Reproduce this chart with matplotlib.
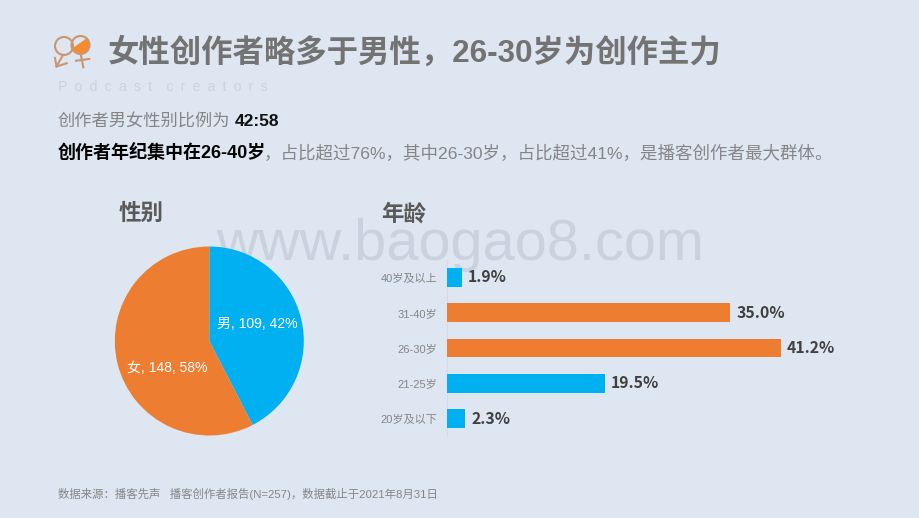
import matplotlib
matplotlib.use('Agg')
import matplotlib.pyplot as plt
from matplotlib.patches import Circle, Polygon

plt.rcParams['font.family'] = ['Liberation Sans', 'Noto Sans CJK SC', 'DejaVu Sans']

W, H = 920, 518
BG = '#DEE6F2'
ORANGE = '#ED7D31'
BLUE = '#00B0F0'

gender_labels = ['男', '女']
gender_values = [109, 148]
gender_pct = [42, 58]
gender_colors = [BLUE, ORANGE]

age_labels = ['40岁及以上', '31-40岁', '26-30岁', '21-25岁', '20岁及以下']
age_values = [1.9, 35.0, 41.2, 19.5, 2.3]
age_colors = [BLUE, ORANGE, ORANGE, BLUE, BLUE]

fig = plt.figure(figsize=(W / 100, H / 100), dpi=100, facecolor=BG)

bg = fig.add_axes([0, 0, 1, 1], zorder=0)
bg.set_xlim(0, W)
bg.set_ylim(H, 0)
bg.axis('off')
bg.text(460, 245, 'www.baogao8.com', fontsize=41.6, color='#CAD2DF', ha='center', va='center',
        family='Liberation Sans', zorder=1)

txt = fig.add_axes([0, 0, 1, 1], zorder=5)
txt.set_xlim(0, W)
txt.set_ylim(H, 0)
txt.axis('off')
txt.patch.set_alpha(0)

txt.text(108, 53, '女性创作者略多于男性，26-30岁为创作主力', fontsize=22.6, color='#737373',
         fontweight='bold', va='center', ha='left')
txt.text(58, 87, '\u2002'.join('Podcast') + '\u2002\u2002' + '\u2002'.join('creators'),
         fontsize=10.2, color='#CFD3D9', va='center', ha='left', family='Liberation Sans')
txt.text(58, 121, '创作者男女性别比例为', fontsize=12.4, color='#858585', va='center', ha='left')
txt.text(235, 121, '42:58', fontsize=12.5, color='#111111', va='center', ha='left', fontweight='bold')
txt.text(58, 153, '创作者年纪集中在26-40岁', fontsize=13, color='#000000', va='center', ha='left',
         fontweight='bold')
txt.text(264, 153, '，占比超过76%，其中26-30岁，占比超过41%，是播客创作者最大群体。', fontsize=12.6,
         color='#858585', va='center', ha='left')
txt.text(119, 214, '性别', fontsize=16.2, color='#595959', fontweight='bold', va='center', ha='left')
txt.text(381, 215, '年龄', fontsize=16.2, color='#595959', fontweight='bold', va='center', ha='left')
txt.text(58, 493.5, '数据来源：播客先声   播客创作者报告(N=257)，数据截止于2021年8月31日', fontsize=8.2,
         color='#858585', va='center', ha='left')

# logo
logo = '#C99670'
fill = Circle((80.5, 45), 8.6, fc='#F68B2C', ec='none')
txt.add_patch(fill)
clip = Polygon([(70, 50), (87, 38), (95, 38), (95, 60), (70, 60)], closed=True, transform=txt.transData,
               fc='none', ec='none')
txt.add_patch(clip)
fill.set_clip_path(clip)
txt.add_patch(Circle((64, 46), 9, fill=False, ec=logo, lw=1.5))
txt.add_patch(Circle((80.5, 45), 9, fill=False, ec=logo, lw=1.5))
txt.plot([63, 56.5], [55, 66.5], color=logo, lw=1.5)
txt.plot([55, 56.5, 66.7], [58, 66.5, 63.3], color=logo, lw=1.5)
txt.plot([80.7, 83.3], [54, 67.3], color=logo, lw=1.5)
txt.plot([76, 89.3], [60.7, 59], color=logo, lw=1.5)

# pie
cx, cy, r = 209.3, 341, 94.5
pie_ax = fig.add_axes([(cx - r) / W, 1 - (cy + r) / H, 2 * r / W, 2 * r / H], zorder=2)
pie_ax.pie(gender_values, colors=gender_colors, startangle=90, counterclock=False, radius=1.0,
           wedgeprops={'linewidth': 0})
pie_ax.set_xlim(-1, 1)
pie_ax.set_ylim(-1, 1)
txt.text(257, 324, f'{gender_labels[0]}, {gender_values[0]}, {gender_pct[0]}%', fontsize=10.1,
         color='white', ha='center', va='center')
txt.text(167, 368.5, f'{gender_labels[1]}, {gender_values[1]}, {gender_pct[1]}%', fontsize=10.1,
         color='white', ha='center', va='center')

# bars
x0 = 446.7
px_per = 8.107
top, bottom = 259.5, 436.5
xmax = 50.0
bar_ax = fig.add_axes([x0 / W, 1 - bottom / H, xmax * px_per / W, (bottom - top) / H], zorder=2)
bar_ax.patch.set_alpha(0)
ypos = list(range(len(age_labels)))
bar_ax.barh(ypos, age_values, height=0.535, color=age_colors, linewidth=0, zorder=3)
bar_ax.set_xlim(0, xmax)
bar_ax.set_ylim(4.5, -0.5)
bar_ax.set_yticks(ypos)
bar_ax.set_yticklabels(age_labels, fontsize=8, color='#858585')
bar_ax.tick_params(axis='y', length=0, pad=6.5)
bar_ax.xaxis.set_visible(False)
for s in ['top', 'right', 'bottom']:
    bar_ax.spines[s].set_visible(False)
bar_ax.spines['left'].set_color('#D5DBE6')
bar_ax.spines['left'].set_linewidth(0.8)
bar_ax.spines['left'].set_zorder(1)
for y, v in zip(ypos, age_values):
    bar_ax.text(v + 0.7, y, f'{v:.1f}%', fontsize=11.4, fontweight='bold', color='#404040',
                va='center', ha='left', family=['Noto Sans CJK SC'])

fig.savefig('out.png', dpi=100, facecolor=BG)
